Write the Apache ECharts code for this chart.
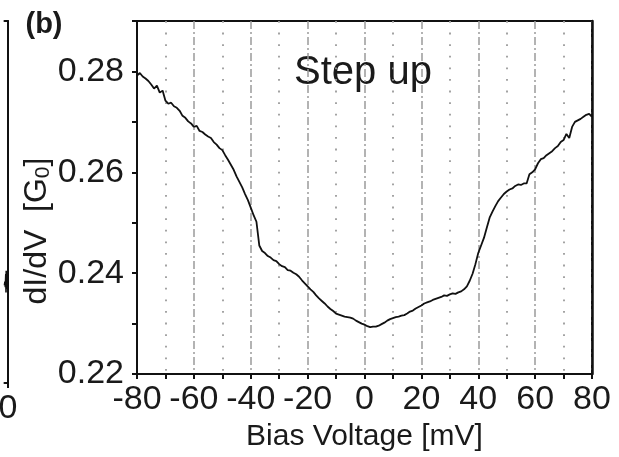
<!DOCTYPE html>
<html>
<head>
<meta charset="utf-8">
<script src="https://cdn.jsdelivr.net/npm/echarts@6/dist/echarts.min.js"></script>
<style>
html,body{margin:0;padding:0;background:#fff;}
#c{width:619px;height:457px;}
</style>
</head>
<body>
<div id="c"></div>
<script>
// Bias voltage in mV (step 1 mV)
const biasStart = -80;
const dIdV = [
0.2792,0.2797,0.2790,0.2786,0.2781,0.2774,0.2766,0.2772,0.2758,0.2762,
0.2742,0.2736,0.2738,0.2731,0.2728,0.2722,0.2712,0.2708,0.2701,0.2697,
0.2690,0.2692,0.2682,0.2680,0.2675,0.2671,0.2668,0.2660,0.2655,0.2648,
0.2644,0.2634,0.2625,0.2615,0.2605,0.2592,0.2581,0.2570,0.2557,0.2545,
0.2530,0.2515,0.2502,0.2455,0.2444,0.2440,0.2434,0.2431,0.2426,0.2424,
0.2418,0.2414,0.2412,0.2406,0.2405,0.2401,0.2398,0.2393,0.2386,0.2380,
0.2374,0.2368,0.2363,0.2356,0.2350,0.2345,0.2340,0.2334,0.2329,0.2325,
0.2320,0.2318,0.2316,0.2314,0.2313,0.2312,0.2310,0.2306,0.2303,0.2300,
0.2298,0.2295,0.2293,0.2294,0.2294,0.2296,0.2299,0.2302,0.2306,0.2309,
0.2311,0.2313,0.2314,0.2316,0.2317,0.2320,0.2324,0.2326,0.2330,0.2333,
0.2336,0.2340,0.2342,0.2344,0.2347,0.2349,0.2351,0.2353,0.2356,0.2355,
0.2358,0.2360,0.2359,0.2362,0.2364,0.2368,0.2374,0.2385,0.2399,0.2418,
0.2440,0.2455,0.2470,0.2490,0.2510,0.2522,0.2533,0.2543,0.2550,0.2557,
0.2562,0.2566,0.2568,0.2573,0.2576,0.2575,0.2578,0.2578,0.2596,0.2600,
0.2606,0.2618,0.2626,0.2628,0.2634,0.2638,0.2642,0.2648,0.2652,0.2660,
0.2664,0.2676,0.2668,0.2690,0.2700,0.2703,0.2706,0.2710,0.2714,0.2716,
0.2710
];
// x-tick labels and y-tick labels shown
const xTickLabels = [-80,-60,-40,-20,0,20,40,60,80];
const yTickLabels = ['0.22','0.24','0.26','0.28'];
// fragment of the neighbouring panel (a) at the left edge
const panelAx = [-8,-7,-6,-5,-4.5,-4,-3,-2,-1,0];
const panelAy = [0.27,0.28,0.265,0.30,0.25,0.31,0.26,0.285,0.27,0.275];

const seriesData = dIdV.map((v,i)=>[biasStart+i, v]);
const fragData = panelAx.map((x,i)=>[x, panelAy[i]]);

const FONT = 'Liberation Sans, Arial, Helvetica, sans-serif';
const TXT = '#1a1a1a';

const chart = echarts.init(document.getElementById('c'), null, {renderer:'canvas'});
chart.setOption({
  animation:false,
  backgroundColor:'#fff',
  grid:[
    {left:137,right:27,top:21,bottom:74,show:true,borderColor:'#111',borderWidth:2,containLabel:false},
    {left:0,width:8,top:21,bottom:74,show:false,containLabel:false}
  ],
  xAxis:[{
    type:'value',gridIndex:0,min:-80,max:80,interval:20,
    axisLine:{show:true,onZero:false,lineStyle:{color:'#111',width:2}},
    axisTick:{show:true,inside:false,length:5,lineStyle:{color:'#111',width:2}},
    minorTick:{show:true,splitNumber:2,length:5,lineStyle:{color:'#111',width:2}},
    axisLabel:{fontFamily:FONT,fontSize:34,color:TXT,margin:9,
      formatter:v=> xTickLabels.indexOf(Math.round(v))>=0 ? String(Math.round(v)) : ''},
    splitLine:{show:true,lineStyle:{color:'#9a9a9a',width:1.5,type:[8,3,2,3]}},
    minorSplitLine:{show:true,lineStyle:{color:'#9a9a9a',width:1.8,type:[1.8,9.8]}},
    name:'Bias Voltage [mV]',nameLocation:'middle',nameGap:43,
    nameTextStyle:{fontFamily:FONT,fontSize:30,color:TXT}
  },{
    type:'value',gridIndex:1,min:-8,max:0,interval:8,position:'bottom',
    axisLine:{show:true,onZero:false,lineStyle:{color:'#111',width:2}},
    axisTick:{show:true,inside:false,length:5,lineStyle:{color:'#111',width:2}},
    axisLabel:{fontFamily:FONT,fontSize:34,color:TXT,margin:9,showMinLabel:false,
      formatter:v=> Math.round(v)===0 ? '0' : ''},
    splitLine:{show:false}
  },{
    type:'value',gridIndex:1,min:-8,max:0,position:'top',
    axisLine:{show:true,onZero:false,lineStyle:{color:'#111',width:2}},
    axisTick:{show:false},axisLabel:{show:false},splitLine:{show:false}
  }],
  yAxis:[{
    type:'value',gridIndex:0,min:0.22,max:0.29,interval:0.01,
    axisLine:{show:true,onZero:false,lineStyle:{color:'#111',width:2}},
    axisTick:{show:true,inside:false,length:5,lineStyle:{color:'#111',width:2}},
    axisLabel:{fontFamily:FONT,fontSize:34,color:TXT,margin:13,
      formatter:v=>{const s=v.toFixed(2);return yTickLabels.indexOf(s)>=0?s:'';}},
    splitLine:{show:false}
  },{
    type:'value',gridIndex:1,min:0,max:1,position:'right',
    axisLine:{show:true,onZero:false,lineStyle:{color:'#111',width:2}},
    axisTick:{show:false},axisLabel:{show:false},splitLine:{show:false}
  },{
    type:'value',gridIndex:0,min:0.22,max:0.29,position:'right',z:10,
    axisLine:{show:true,onZero:false,lineStyle:{color:'#111',width:2.5}},
    axisTick:{show:false},axisLabel:{show:false},splitLine:{show:false}
  }],
  series:[{
    type:'line',xAxisIndex:0,yAxisIndex:0,data:seriesData,showSymbol:false,
    lineStyle:{color:'#111',width:1.8},silent:true
  },{
    type:'line',xAxisIndex:1,yAxisIndex:1,data:fragData,showSymbol:false,
    lineStyle:{color:'#111',width:1.6},silent:true
  }],
  graphic:[
    {type:'text',x:363,y:73,style:{text:'Step up',font:'40px '+FONT,fill:TXT,textAlign:'center',textVerticalAlign:'middle'}},
    {type:'text',x:44,y:25,style:{text:'(b)',font:'bold 29px '+FONT,fill:TXT,textAlign:'center',textVerticalAlign:'middle'}},
    {type:'text',x:37,y:231,rotation:Math.PI/2,
      style:{text:'dI/dV  [G{s|0}]',font:'32px '+FONT,fill:TXT,textAlign:'center',textVerticalAlign:'middle',
        rich:{s:{fontSize:21,fontFamily:FONT,fill:TXT,verticalAlign:'bottom',padding:[12,0,0,0]}}}}
  ]
});
</script>
</body>
</html>
